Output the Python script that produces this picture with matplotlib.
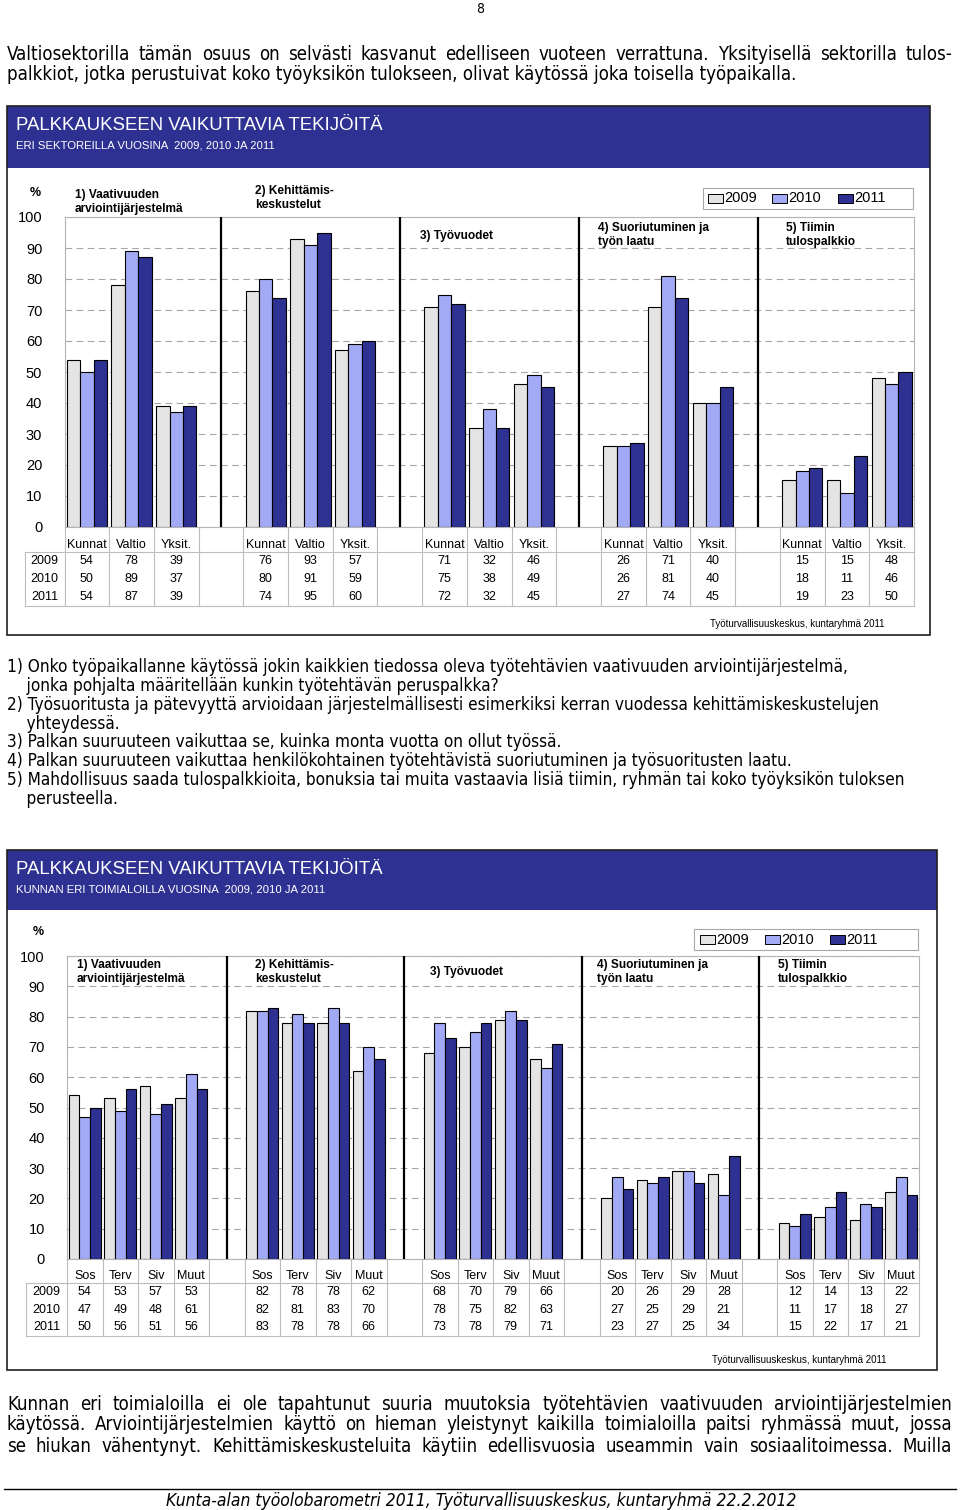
"""Palkkaukseen vaikuttavia tekijöitä - page with two grouped bar charts."""
import matplotlib
matplotlib.use('Agg')
import matplotlib.pyplot as plt
from matplotlib import font_manager
from matplotlib.patches import Rectangle
from matplotlib.transforms import blended_transform_factory
import numpy as np

plt.rcParams['font.family'] = ['Liberation Sans', 'DejaVu Sans']

# ── data ────────────────────────────────────────────────────────────────────
years = ['2009', '2010', '2011']
factors = ['1) Vaativuuden\narviointijärjestelmä', '2) Kehittämis-\nkeskustelut',
           '3) Työvuodet', '4) Suoriutuminen ja\ntyön laatu', '5) Tiimin\ntulospalkkio']

sectors = ['Kunnat', 'Valtio', 'Yksit.']
sec_2009 = [54, 78, 39, 76, 93, 57, 71, 32, 46, 26, 71, 40, 15, 15, 48]
sec_2010 = [50, 89, 37, 80, 91, 59, 75, 38, 49, 26, 81, 40, 18, 11, 46]
sec_2011 = [54, 87, 39, 74, 95, 60, 72, 32, 45, 27, 74, 45, 19, 23, 50]

branches = ['Sos', 'Terv', 'Siv', 'Muut']
br_2009 = [54, 53, 57, 53, 82, 78, 78, 62, 68, 70, 79, 66, 20, 26, 29, 28, 12, 14, 13, 22]
br_2010 = [47, 49, 48, 61, 82, 81, 83, 70, 78, 75, 82, 63, 27, 25, 29, 21, 11, 17, 18, 27]
br_2011 = [50, 56, 51, 56, 83, 78, 78, 66, 73, 78, 79, 71, 23, 27, 25, 34, 15, 22, 17, 21]

SOURCE = 'Työturvallisuuskeskus, kuntaryhmä 2011'
TITLE = 'PALKKAUKSEEN VAIKUTTAVIA TEKIJÖITÄ'
SUB1 = 'ERI SEKTOREILLA VUOSINA  2009, 2010 JA 2011'
SUB2 = 'KUNNAN ERI TOIMIALOILLA VUOSINA  2009, 2010 JA 2011'

PARA1 = ['Valtiosektorilla tämän osuus on selvästi kasvanut edelliseen vuoteen verrattuna. Yksityisellä sektorilla tulos-',
         'palkkiot, jotka perustuivat koko työyksikön tulokseen, olivat käytössä joka toisella työpaikalla.']
NOTES = ['1) Onko työpaikallanne käytössä jokin kaikkien tiedossa oleva työtehtävien vaativuuden arviointijärjestelmä,',
         '    jonka pohjalta määritellään kunkin työtehtävän peruspalkka?',
         '2) Työsuoritusta ja pätevyyttä arvioidaan järjestelmällisesti esimerkiksi kerran vuodessa kehittämiskeskustelujen',
         '    yhteydessä.',
         '3) Palkan suuruuteen vaikuttaa se, kuinka monta vuotta on ollut työssä.',
         '4) Palkan suuruuteen vaikuttaa henkilökohtainen työtehtävistä suoriutuminen ja työsuoritusten laatu.',
         '5) Mahdollisuus saada tulospalkkioita, bonuksia tai muita vastaavia lisiä tiimin, ryhmän tai koko työyksikön tuloksen',
         '    perusteella.']
PARA2 = ['Kunnan eri toimialoilla ei ole tapahtunut suuria muutoksia työtehtävien vaativuuden arviointijärjestelmien',
         'käytössä. Arviointijärjestelmien käyttö on hieman yleistynyt kaikilla toimialoilla paitsi ryhmässä muut, jossa',
         'se hiukan vähentynyt. Kehittämiskeskusteluita käytiin edellisvuosia useammin vain sosiaalitoimessa. Muilla']
FOOTER = 'Kunta-alan työolobarometri 2011, Työturvallisuuskeskus, kuntaryhmä 22.2.2012'

C_09 = '#E4E4E4'
C_10 = '#A3AAF5'
C_11 = '#2E3192'
C_HEAD = '#2E3192'
C_GRID = '#A6A6A6'
C_TBL = '#BDBDBD'
COLORS = [C_09, C_10, C_11]

# ── page ────────────────────────────────────────────────────────────────────
W, H = 960, 1510
fig = plt.figure(figsize=(W / 100, H / 100), dpi=100)
page = fig.add_axes([0, 0, 1, 1])
page.set_xlim(0, W); page.set_ylim(H, 0)
page.axis('off')
page.set_zorder(5)
page.patch.set_alpha(0)
renderer = fig.canvas.get_renderer()

names = {f.name for f in font_manager.fontManager.ttflist}
if 'Liberation Sans Narrow' in names:
    BODY = dict(family=['Liberation Sans Narrow', 'DejaVu Sans'])
else:
    BODY = dict(family=['DejaVu Sans'], fontstretch='condensed')


def px_axes(x0, y0, x1, y1):
    return fig.add_axes([x0 / W, 1 - y1 / H, (x1 - x0) / W, (y1 - y0) / H])


def tw(s, size, **kw):
    t = page.text(0, 0, s, fontsize=size, **kw)
    w = t.get_window_extent(renderer).width
    t.remove()
    return w


def fit(s, width, **kw):
    return 10 * width / tw(s, 10, **kw)


def justify(s, x0, x1, y, size, **kw):
    words = s.split()
    ws = [tw(w, size, **kw) for w in words]
    gap = (x1 - x0 - sum(ws)) / (len(words) - 1)
    x = x0
    for w, wd in zip(words, ws):
        page.text(x, y, w, fontsize=size, ha='left', va='center', **kw)
        x += wd + gap


def panel(x0, y0, x1, y1, head_h, sub, ty, sy):
    page.add_patch(Rectangle((x0, y0), x1 - x0, head_h, fc=C_HEAD, ec='none'))
    page.add_patch(Rectangle((x0, y0), x1 - x0, y1 - y0, fill=False, ec='#202020', lw=1.2))
    page.text(16, ty, TITLE, color='white', fontsize=13.4, ha='left', va='center')
    page.text(16, sy, sub, color='white', fontsize=8.2, ha='left', va='center')


def legend(bx0, by0, bx1, by1, sq_x):
    page.add_patch(Rectangle((bx0, by0), bx1 - bx0, by1 - by0, fill=False, ec='#A8A8A8', lw=0.8))
    yc = (by0 + by1) / 2
    for sx, yr, col in zip(sq_x, years, COLORS):
        page.add_patch(Rectangle((sx, yc - 4.5), 15, 9, fc=col, ec='black', lw=0.7))
        page.text(sx + 16, yc, yr, fontsize=10.5, ha='left', va='center')


def chart(box, cats, series, titles_xy, cat_y, row_ys, tbl_top, tbl_bot, year_left):
    x0, y0, x1, y1 = box
    ax = px_axes(x0, y0, x1, y1)
    n = len(cats)
    step = n + 1
    ng = len(series[0]) // n
    slots = np.array([g * step + c for g in range(ng) for c in range(n)])
    blanks = np.array([g * step + n for g in range(ng - 1)])
    nslots = ng * step - 1
    bw = 0.3
    for j, (vals, col) in enumerate(zip(series, COLORS)):
        ax.bar(slots + (j - 1) * bw, vals, bw, color=col, edgecolor='black', lw=0.8, zorder=3)
    ax.vlines(blanks, 0, 100, color='black', lw=1.6, zorder=4)
    ax.set_xlim(-0.5, nslots - 0.5); ax.set_ylim(0, 100)
    ax.set_yticks(range(0, 101, 10))
    ax.set_xticks([])
    ax.yaxis.grid(True, ls=(0, (6, 4)), color=C_GRID, lw=0.8)
    ax.set_axisbelow(True)
    ax.tick_params(axis='y', length=0, pad=16, labelsize=10.5)
    for s in ax.spines.values():
        s.set_color('#B4B4B4'); s.set_linewidth(0.8)

    # data table under the plot
    tr = blended_transform_factory(ax.transData, page.transData)
    for k in range(nslots + 1):
        ax.plot([k - 0.5, k - 0.5], [y1, tbl_bot], color=C_TBL, lw=0.8,
                transform=tr, clip_on=False)
    for yy in (tbl_top, tbl_bot):
        page.plot([year_left, x1], [yy, yy], color=C_TBL, lw=0.8)
    page.plot([year_left, year_left], [tbl_top, tbl_bot], color=C_TBL, lw=0.8)
    for i, sl in enumerate(slots):
        ax.text(sl, cat_y, cats[i % n], transform=tr, ha='center', va='center', fontsize=9)
        for vals, ry in zip(series, row_ys):
            ax.text(sl, ry, str(vals[i]), transform=tr, ha='center', va='center', fontsize=9)
    for yr, ry in zip(years, row_ys):
        page.text((year_left + x0) / 2, ry, yr, ha='center', va='center', fontsize=9)

    for t, (tx, ty) in zip(factors, titles_xy):
        page.text(tx, ty, t, fontsize=8.6, fontweight='bold', ha='left', va='center',
                  linespacing=1.12)
    page.text(x0 - 29, y0 - 24, '%', fontsize=9, fontweight='bold', ha='center', va='center')
    return ax


# ── top text ───────────────────────────────────────────────────────────────
page.text(480, 9, '8', fontsize=10, ha='center', va='center', **BODY)
psize = fit(PARA1[1], 793, **BODY)
justify(PARA1[0], 7, 952, 55, psize, **BODY)
page.text(7, 75, PARA1[1], fontsize=psize, ha='left', va='center', **BODY)

# ── chart 1: sectors ───────────────────────────────────────────────────────
panel(7, 106, 930, 635, 62, SUB1, 126, 146)
chart((64.5, 217, 914, 527), sectors, [sec_2009, sec_2010, sec_2011],
      [(75, 202), (255, 198), (420, 236), (598, 235), (786, 235)],
      545, [561, 579, 597], 552, 606, 25)
legend(703, 188, 913, 209, [708, 772, 838])
page.text(885, 624, SOURCE, fontsize=7, ha='right', va='center')

# ── footnotes ──────────────────────────────────────────────────────────────
nsize = fit(NOTES[6], 901, **BODY)
for line, ny in zip(NOTES, [667, 686, 705, 724, 742, 761, 780, 799]):
    page.text(7, ny, line, fontsize=nsize, ha='left', va='center', **BODY)

# ── chart 2: branches ──────────────────────────────────────────────────────
panel(7, 850, 937, 1370, 60, SUB2, 869, 890)
chart((67, 956, 919, 1259), branches, [br_2009, br_2010, br_2011],
      [(77, 972), (255, 972), (430, 972), (597, 972), (778, 972)],
      1276, [1292, 1310, 1327], 1283, 1336, 26)
legend(694, 929, 918, 950, [700, 765, 830])
page.text(887, 1360, SOURCE, fontsize=7, ha='right', va='center')

# ── bottom text ────────────────────────────────────────────────────────────
for line, ly in zip(PARA2, [1404, 1425, 1446]):
    justify(line, 7, 952, ly, psize, **BODY)
page.plot([4, 956], [1489, 1489], color='black', lw=1)
fsize = fit(FOOTER, 628, style='italic', **BODY)
page.text(481, 1501, FOOTER, fontsize=fsize, style='italic', ha='center', va='center', **BODY)

fig.savefig('out.png', dpi=100, facecolor='white')
